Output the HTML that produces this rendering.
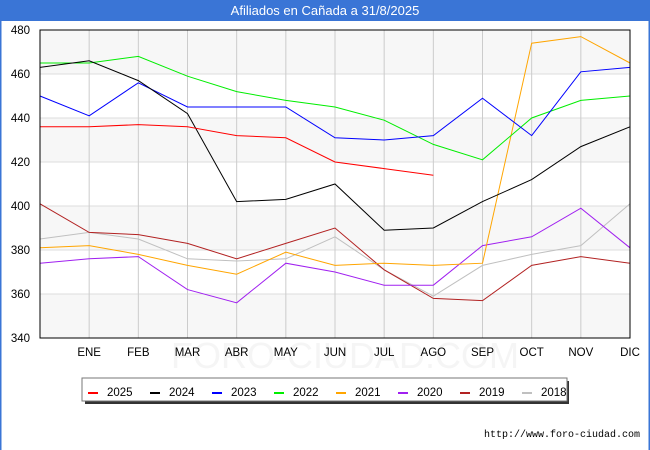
<!DOCTYPE html>
<html><head><meta charset="utf-8"><style>
body{margin:0;background:#fff;font-family:"Liberation Sans","DejaVu Sans",sans-serif}
#wrap{position:relative;width:650px;height:450px;overflow:hidden;border:0;box-sizing:border-box}
</style></head><body>
<div id="wrap">
<svg id="chart" width="650" height="450"></svg>
</div>
<script>
const months=["","ENE","FEB","MAR","ABR","MAY","JUN","JUL","AGO","SEP","OCT","NOV","DIC"];
const yTicks=[340,360,380,400,420,440,460,480];
const years=["2025","2024","2023","2022","2021","2020","2019","2018"];
const colors=["#ff0000","#000000","#0000ff","#00ee00","#ffa500","#a020f0","#b22222","#c0c0c0"];
const s2025=[436,436,437,436,432,431,420,417,414];
const s2024=[463,466,457,442,402,403,410,389,390,402,412,427,436];
const s2023=[450,441,456,445,445,445,431,430,432,449,432,461,463];
const s2022=[465,465,468,459,452,448,445,439,428,421,440,448,450];
const s2021=[381,382,378,373,369,379,373,374,373,374,474,477,465];
const s2020=[374,376,377,362,356,374,370,364,364,382,386,399,381];
const s2019=[401,388,387,383,376,383,390,371,358,357,373,377,374];
const s2018=[385,388,385,376,375,376,386,371,359,373,378,382,401];
const series=[s2025,s2024,s2023,s2022,s2021,s2020,s2019,s2018];

const NS="http://www.w3.org/2000/svg";
const svg=document.getElementById('chart');
const L=40,R=630,T=30,B=338,yMin=340,yMax=480;
const x=i=>L+i*(R-L)/12;
const y=v=>B-(v-yMin)*(B-T)/(yMax-yMin);
function mk(tag,at,parent){const e=document.createElementNS(NS,tag);for(const k in at)e.setAttribute(k,at[k]);(parent||svg).appendChild(e);return e;}

const title=mk('rect',{x:0,y:0,width:650,height:21,fill:'#3a75d6'});


const tt=mk('text',{x:325,y:15,'text-anchor':'middle',fill:'#fff','font-size':13});
tt.textContent="Afiliados en Cañada a 31/8/2025";


const lb=mk('rect',{x:0,y:21,width:1.5,height:429,fill:'#3a75d6'});


const rb=mk('rect',{x:648.5,y:21,width:1.5,height:429,fill:'#3a75d6'});



const wm=mk('text',{x:345,y:368,'text-anchor':'middle','font-size':36,fill:'#f5f5f5'});
wm.textContent="FORO-CIUDAD.COM";



for(let i=0;i<yTicks.length-1;i++){
  if(i%2==0){const b=mk('rect',{x:L,y:y(yTicks[i+1]),width:R-L,height:y(yTicks[i])-y(yTicks[i+1]),fill:'#f7f7f7'});
  
  }
}
yTicks.forEach(v=>{
  const g=mk('line',{x1:L,x2:R,y1:y(v),y2:y(v),stroke:'#dddddd'});
  
  
  const t=mk('text',{x:L-10,y:y(v)+4,'text-anchor':'end','font-size':11.5,fill:'#000'});
  t.textContent=v;
  
  
});
months.forEach((m,i)=>{
  if(i==0)return;
  const g=mk('line',{x1:x(i),x2:x(i),y1:T,y2:B,stroke:'#cccccc'});
  
  
  const t=mk('text',{x:x(i),y:356,'text-anchor':'middle','font-size':11.5,fill:'#000'});
  t.textContent=m;
  
  
});

for(let k=series.length-1;k>=0;k--){
  const pts=series[k].map((v,i)=>x(i)+','+y(v)).join(' ');
  const p=mk('polyline',{points:pts,fill:'none',stroke:colors[k],'stroke-width':1});
  
  
}
const frame=mk('rect',{x:L,y:T,width:R-L,height:B-T,fill:'none',stroke:'#000','stroke-width':1});



const sh=mk('rect',{x:85,y:381,width:484,height:23,fill:'#333'});


const lg=mk('rect',{x:82,y:378,width:485,height:23,fill:'#fff',stroke:'#777'});


years.forEach((yr,i)=>{
  const ex=88+i*62;
  const sw=mk('rect',{x:ex,y:392,width:10,height:2,fill:colors[i]});
  
  
  const t=mk('text',{x:ex+19,y:396,'font-size':11.5,fill:'#000'});
  t.textContent=yr;
  
  
});
const url=mk('text',{x:640,y:437,'text-anchor':'end','font-size':10,fill:'#000','font-family':'Liberation Mono, monospace'});
url.textContent="http://www.foro-ciudad.com";


</script>
</body></html>
